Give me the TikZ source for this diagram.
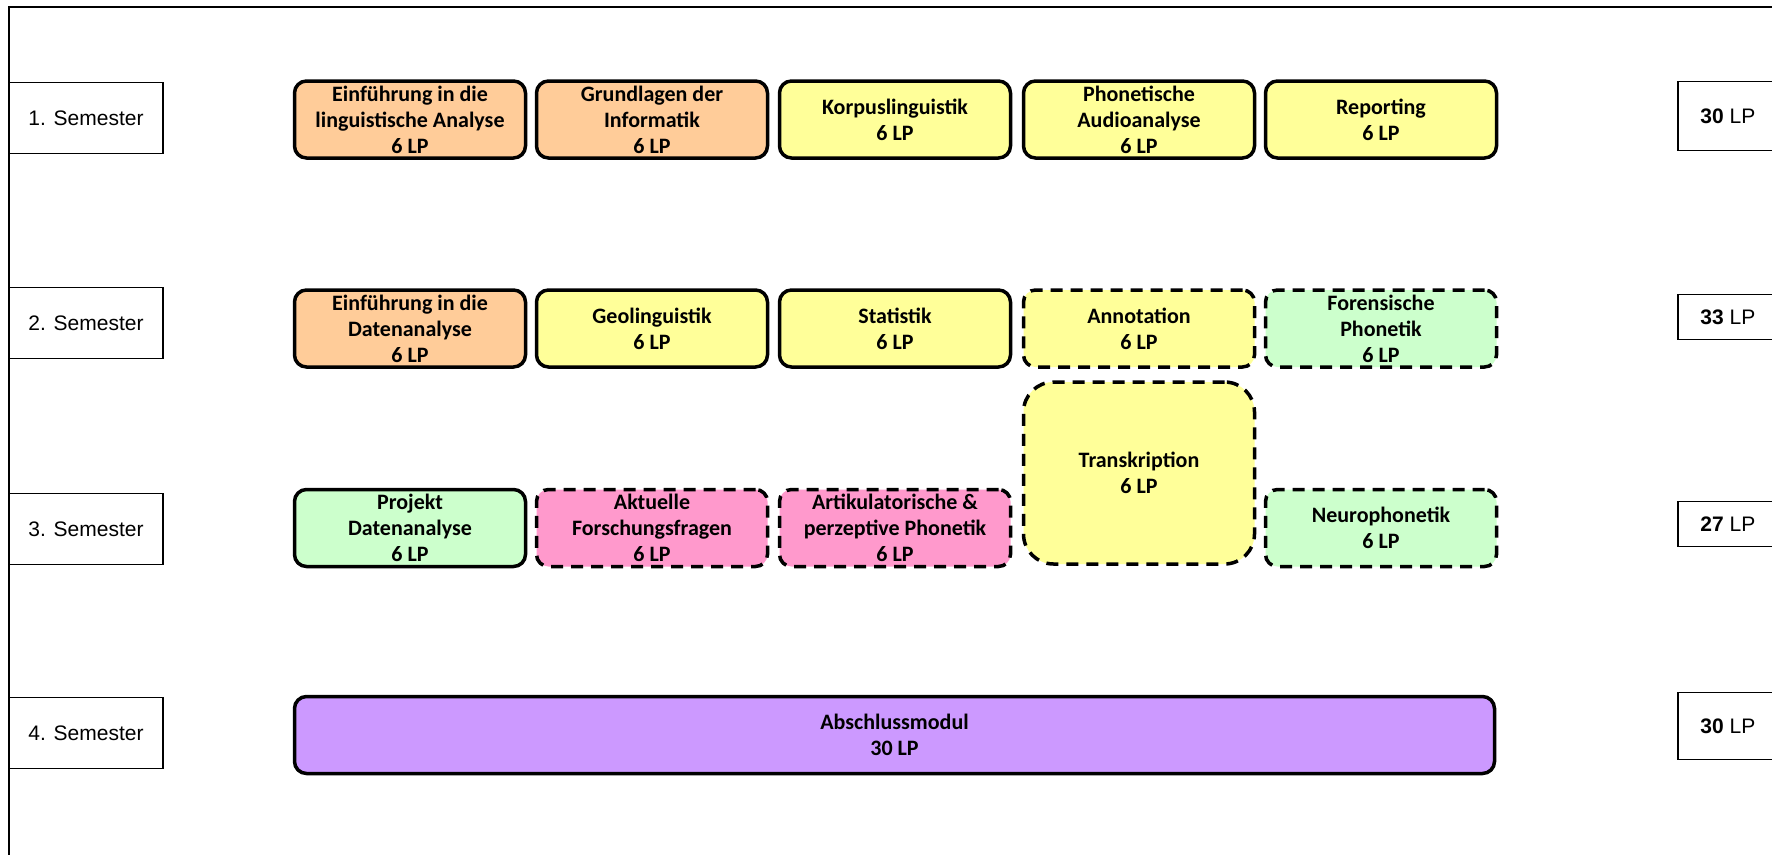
\documentclass[tikz,border=0pt]{standalone}
\usepackage{fontspec}
\setmainfont{Carlito}
\newfontfamily\arialf{Liberation Sans}
\definecolor{corange}{HTML}{FFCC99}
\definecolor{cyellow}{HTML}{FFFF99}
\definecolor{cgreen}{HTML}{CCFFCC}
\definecolor{cpink}{HTML}{FF99CC}
\definecolor{cpurple}{HTML}{CC99FF}
\begin{document}
\begin{tikzpicture}[x=1pt,y=-1pt,
  mod/.style={draw=black, line width=3.5pt, rounded corners=12pt, align=center,
    font=\fontsize{22}{26}\selectfont\bfseries, inner sep=0pt,
    minimum width=231pt, minimum height=77pt,
    execute at begin node={\rule{0pt}{26pt}}},
  opt/.style={dash pattern=on 12pt off 8pt},
  sem/.style={draw=black, line width=1.75pt, font=\arialf\fontsize{21}{25}\selectfont,
    minimum width=154pt, minimum height=71pt, inner sep=0pt},
  lpbox/.style={draw=black, line width=1.75pt, font=\arialf\fontsize{21}{25}\selectfont,
    minimum width=100pt, inner sep=0pt, anchor=west}]
\useasboundingbox (0,0) rectangle (1772,854);
\fill[white] (0,0) rectangle (1772,854);
% outer frame
\draw[line width=2pt] (8.5,900) -- (8.5,7) -- (1800,7);
% semester labels
\node[sem] (s1) at (86,118) {1. Semester};
\node[sem] (s2) at (86,323) {2. Semester};
\node[sem] (s3) at (86,529) {3. Semester};
\node[sem] (s4) at (86,733) {4. Semester};
% LP sums
\node[lpbox, minimum height=69pt] (p1) at (1677,116) {\textbf{30} LP};
\node[lpbox, minimum height=45pt] (p2) at (1677,317) {\textbf{33} LP};
\node[lpbox, minimum height=45pt] (p3) at (1677,524) {\textbf{27} LP};
\node[lpbox, minimum height=67pt] (p4) at (1677,726) {\textbf{30} LP};
% semester 1
\node[mod, fill=corange] (m11) at (410,119.5) {Einführung in die\\linguistische Analyse\\6 LP};
\node[mod, fill=corange] (m12) at (652,119.5) {Grundlagen der\\Informatik\\6 LP};
\node[mod, fill=cyellow] (m13) at (895,119.5) {Korpuslinguistik\\6 LP};
\node[mod, fill=cyellow] (m14) at (1139,119.5) {Phonetische\\Audioanalyse\\6 LP};
\node[mod, fill=cyellow] (m15) at (1381,119.5) {Reporting\\6 LP};
% semester 2
\node[mod, fill=corange] (m21) at (410,328.5) {Einführung in die\\Datenanalyse\\6 LP};
\node[mod, fill=cyellow] (m22) at (652,328.5) {Geolinguistik\\6 LP};
\node[mod, fill=cyellow] (m23) at (895,328.5) {Statistik\\6 LP};
\node[mod, opt, fill=cyellow] (m24) at (1139,328.5) {Annotation\\6 LP};
\node[mod, opt, fill=cgreen] (m25) at (1381,328.5) {Forensische\\Phonetik\\6 LP};
% transkription
\node[mod, opt, fill=cyellow, rounded corners=30pt, minimum height=182pt] (mt) at (1139,473) {Transkription\\6 LP};
% semester 3
\node[mod, fill=cgreen] (m31) at (410,528) {Projekt\\Datenanalyse\\6 LP};
\node[mod, opt, fill=cpink] (m32) at (652,528) {Aktuelle\\Forschungsfragen\\6 LP};
\node[mod, opt, fill=cpink] (m33) at (895,528) {Artikulatorische \&\\perzeptive Phonetik\\6 LP};
\node[mod, opt, fill=cgreen] (m35) at (1381,528) {Neurophonetik\\6 LP};
% semester 4
\node[mod, fill=cpurple, minimum width=1200pt] (m41) at (894.5,735) {Abschlussmodul\\30 LP};
\end{tikzpicture}
\end{document}
